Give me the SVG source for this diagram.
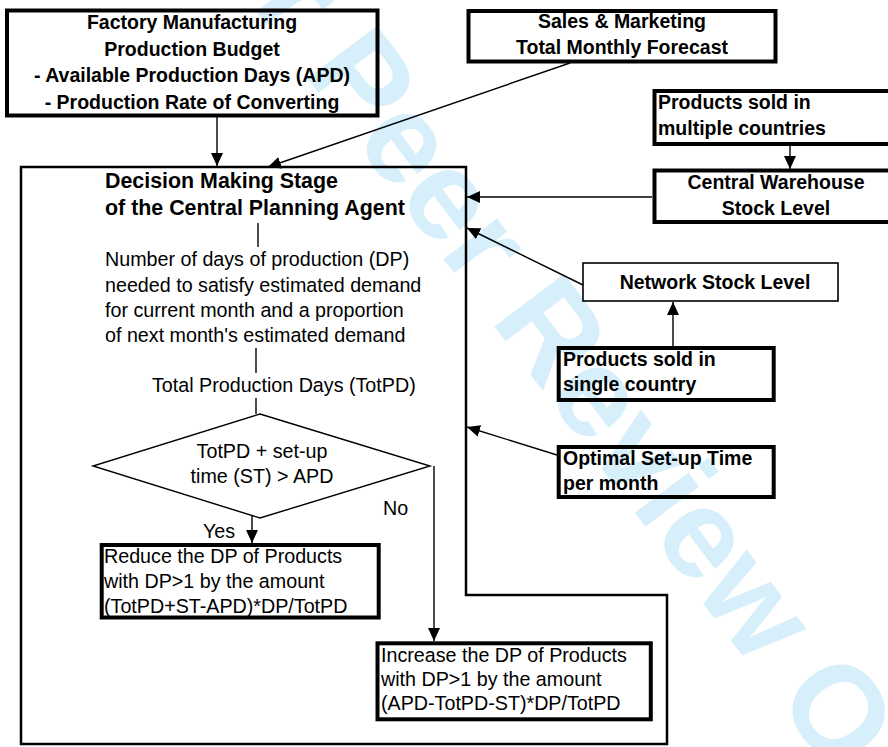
<svg xmlns="http://www.w3.org/2000/svg" width="888" height="747" viewBox="0 0 888 747">
<style>
text{font-family:"Liberation Sans",Arial,Helvetica,sans-serif;font-size:19.7px;fill:#000}
.b{font-weight:bold;font-size:19.5px}
.t{font-weight:bold;font-size:21.4px}
.c{text-anchor:middle}
.thick{fill:none;stroke:#000;stroke-width:4}
.thin{fill:none;stroke:#000;stroke-width:1.6}
.con{fill:none;stroke:#000;stroke-width:1.4}
.wm{font-weight:bold;font-size:127px;fill:#d6effb}
</style>
<defs>
<marker id="ah" markerUnits="userSpaceOnUse" markerWidth="14" markerHeight="12" refX="13" refY="6" orient="auto">
<path d="M0,0 L13,6 L0,12 z" fill="#000"/>
</marker>
</defs>
<rect width="888" height="747" fill="#fff"/>
<text class="wm" transform="translate(158,-120) rotate(53)">For Peer Review Only</text>

<g id="planning-stage">
<path d="M21,167 L466,167 L466,595 L667,595 L667,744 L21,744 Z" fill="none" stroke="#000" stroke-width="2.5"/>
<text class="t" x="105" y="188">Decision Making Stage</text>
<text class="t" x="105" y="215">of the Central Planning Agent</text>
</g>

<g id="dp-text">
<text x="105" y="266">Number of days of production (DP)</text>
<text x="105" y="292">needed to satisfy estimated demand</text>
<text x="105" y="317">for current month and a proportion</text>
<text x="105" y="342">of next month's estimated demand</text>
</g>

<g id="totpd">
<text x="152" y="392">Total Production Days (TotPD)</text>
</g>

<g id="decision">
<polygon points="260,414 430,466 260,518 93,466" fill="none" stroke="#000" stroke-width="1.4"/>
<text class="c" x="262" y="458">TotPD + set-up</text>
<text class="c" x="262" y="483">time (ST) &gt; APD</text>
</g>

<g id="reduce">
<rect class="thick" x="101.7" y="545" width="277" height="72.5"/>
<text x="104" y="563">Reduce the DP of Products</text>
<text x="104" y="588">with DP&gt;1 by the amount</text>
<text x="104" y="613">(TotPD+ST-APD)*DP/TotPD</text>
</g>

<g id="increase">
<rect class="thick" x="377.5" y="643.3" width="273.3" height="76"/>
<text x="381" y="662">Increase the DP of Products</text>
<text x="381" y="686">with DP&gt;1 by the amount</text>
<text x="381" y="710">(APD-TotPD-ST)*DP/TotPD</text>
</g>

<g id="factory">
<rect class="thick" x="7" y="10.5" width="370.5" height="105"/>
<text class="b c" x="192" y="29">Factory Manufacturing</text>
<text class="b c" x="192" y="55.5">Production Budget</text>
<text class="b c" x="192" y="82">- Available Production Days (APD)</text>
<text class="b c" x="192" y="108.5">- Production Rate of Converting</text>
</g>

<g id="sales">
<rect class="thick" x="468.5" y="11" width="307" height="50.5"/>
<text class="b c" x="622" y="28">Sales &amp; Marketing</text>
<text class="b c" x="622" y="54">Total Monthly Forecast</text>
</g>

<g id="multi-country">
<rect class="thick" x="654.5" y="91" width="260" height="53"/>
<text class="b" x="658" y="109">Products sold in</text>
<text class="b" x="658" y="135">multiple countries</text>
</g>

<g id="central-warehouse">
<rect class="thick" x="654.5" y="170.5" width="260" height="51.5"/>
<text class="b c" x="776" y="189">Central Warehouse</text>
<text class="b c" x="776" y="215">Stock Level</text>
</g>

<g id="network">
<rect class="thin" x="583" y="263" width="255" height="38"/>
<text class="b c" x="715" y="289">Network Stock Level</text>
</g>

<g id="single-country">
<rect class="thick" x="558.7" y="348" width="215" height="52"/>
<text class="b" x="563" y="366">Products sold in</text>
<text class="b" x="563" y="391">single country</text>
</g>

<g id="setup-time">
<rect class="thick" x="558.7" y="447" width="215" height="50"/>
<text class="b" x="563" y="465">Optimal Set-up Time</text>
<text class="b" x="563" y="490">per month</text>
</g>

<g id="connectors">
<line class="con" x1="217" y1="117" x2="217" y2="166" marker-end="url(#ah)"/>
<line class="con" x1="570" y1="63" x2="268" y2="167" marker-end="url(#ah)"/>
<line class="con" x1="790" y1="145" x2="790" y2="169" marker-end="url(#ah)"/>
<line class="con" x1="652" y1="197" x2="467" y2="197" marker-end="url(#ah)"/>
<line class="con" x1="583" y1="285" x2="467" y2="228" marker-end="url(#ah)"/>
<line class="con" x1="673" y1="346" x2="673" y2="302" marker-end="url(#ah)"/>
<line class="con" x1="557" y1="455" x2="467" y2="427" marker-end="url(#ah)"/>
<line class="con" x1="258" y1="223" x2="258" y2="247"/>
<line class="con" x1="256" y1="348" x2="256" y2="373"/>
<line class="con" x1="256" y1="398" x2="256" y2="414"/>
<line class="con" x1="252" y1="516" x2="252" y2="543" marker-end="url(#ah)"/>
<line class="con" x1="434" y1="466" x2="434" y2="641" marker-end="url(#ah)"/>
<text x="235" y="538" style="text-anchor:end">Yes</text>
<text x="383" y="515">No</text>
</g>
</svg>
